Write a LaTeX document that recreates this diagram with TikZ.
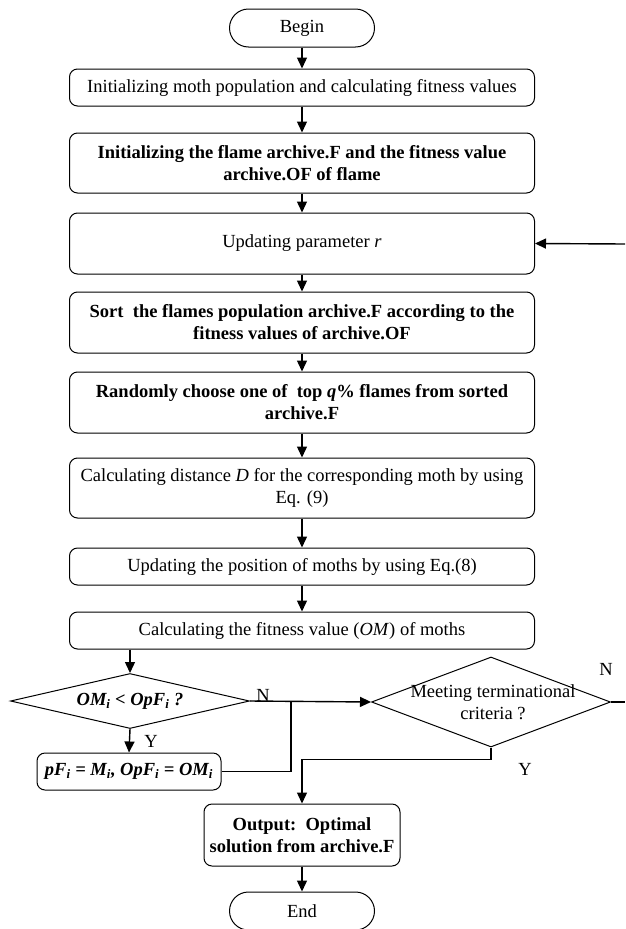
\documentclass[tikz,border=0pt]{standalone}
\usepackage{fontspec}
\setmainfont{Liberation Serif}
\usetikzlibrary{arrows.meta, positioning, shapes.geometric}
\tikzset{
    flowchart/.style={font=\fontsize{18.5}{22}\selectfont},
    wire/.style={line width=1.4pt},
    flow/.style={wire, -{Triangle[length=11pt, width=10pt]}},
    box/.style={draw, line width=1pt, rounded corners=8pt, align=center, inner sep=2pt},
    process/.style={box, minimum width=465pt},
    terminal/.style={draw, line width=1pt, rounded corners=19pt, minimum width=145pt, minimum height=38pt},
    decision/.style={draw, line width=1pt, diamond, inner sep=0pt},
    tag/.style={inner sep=0pt},
}

\begin{document}
\begin{tikzpicture}[flowchart]
    \useasboundingbox (0,0) rectangle (625pt,-929pt);

    % main column
    \node[terminal] (begin) at (302pt,-28pt) {Begin};
    \node[process, minimum height=37pt] (init) at (302pt,-87.5pt)
        {Initializing moth population and calculating fitness values};
    \node[process, minimum height=60pt] (archive) at (302pt,-163pt)
        {\textbf{Initializing the flame archive.F and the fitness value}\\\textbf{archive.OF of flame}};
    \node[process, minimum height=61pt] (update) at (302pt,-243.5pt)
        {Updating parameter \textit{r}};
    \node[process, minimum height=61pt] (sort) at (302pt,-322.5pt)
        {\textbf{Sort\ \ the flames population archive.F according to the}\\\textbf{fitness values of archive.OF}};
    \node[process, minimum height=61pt] (choose) at (302pt,-402.5pt)
        {\textbf{Randomly choose one of\ \ top \textit{q}\% flames from sorted}\\\textbf{archive.F}};
    \node[process, minimum height=60pt] (dist) at (302pt,-488pt)
        {Calculating distance \textit{D} for the corresponding moth by using\\Eq. (9)};
    \node[process, minimum height=37pt] (move) at (302pt,-566.5pt)
        {Updating the position of moths by using Eq.(8)};
    \node[process, minimum height=37pt] (fit) at (302pt,-630.5pt)
        {Calculating the fitness value (\textit{OM}) of moths};

    % decisions
    \node[decision, minimum width=239pt, minimum height=55pt] (better) at (130pt,-701pt) {};
    \node[inner sep=0pt] (bettertxt) at (better.center)
        {\bfseries\itshape OM\textsubscript{i} < OpF\textsubscript{i} ?};
    \node[decision, minimum width=239pt, minimum height=90pt] (stop) at (491pt,-702pt) {};
    \node[align=center, inner sep=0pt] (stoptxt) at (493pt,-702pt)
        {Meeting terminational\\criteria ?};

    \node[box, minimum width=184pt, minimum height=37pt] (keep) at (129pt,-771.5pt)
        {\bfseries\itshape pF\textsubscript{i} = M\textsubscript{i}, OpF\textsubscript{i} = OM\textsubscript{i}};
    \node[box, minimum width=196pt, minimum height=62pt] (output) at (302pt,-835pt)
        {\textbf{Output:\ \ Optimal}\\\textbf{solution from archive.F}};
    \node[terminal] (end) at (302pt,-911pt) {End};

    % free ends of the loop back
    \coordinate (loopin) at (625pt,-244pt);
    \coordinate (loopout) at (625pt,-702pt);
    \coordinate (join) at (291pt,-702pt);

    % connectors
    \draw[flow] (begin) -- (init);
    \draw[flow] (init) -- (archive);
    \draw[flow] (archive) -- (update);
    \draw[flow] (update) -- (sort);
    \draw[flow] (sort) -- (choose);
    \draw[flow] (choose) -- (dist);
    \draw[flow] (dist) -- (move);
    \draw[flow] (move) -- (fit);
    \draw[flow] (fit.south -| better.north) -- (better.north);
    \draw[flow] (better.south) -- (keep.north);
    \draw[flow] (better.east) -- (stop.west);
    \draw[wire] (keep.east) -| (join);
    \draw[wire] (stop.east) -- (loopout);
    \draw[flow] (loopin) -- (update.east);
    \draw[flow] (stop.south) -- ++(0,-12pt) -| (output.north);
    \draw[flow] (output) -- (end);

    % branch labels
    \node[tag] (betterno) at (263pt,-695pt) {N};
    \node[tag] (betteryes) at (151pt,-741pt) {Y};
    \node[tag] (stopno) at (606pt,-669pt) {N};
    \node[tag] (stopyes) at (525pt,-769pt) {Y};
\end{tikzpicture}
\end{document}
